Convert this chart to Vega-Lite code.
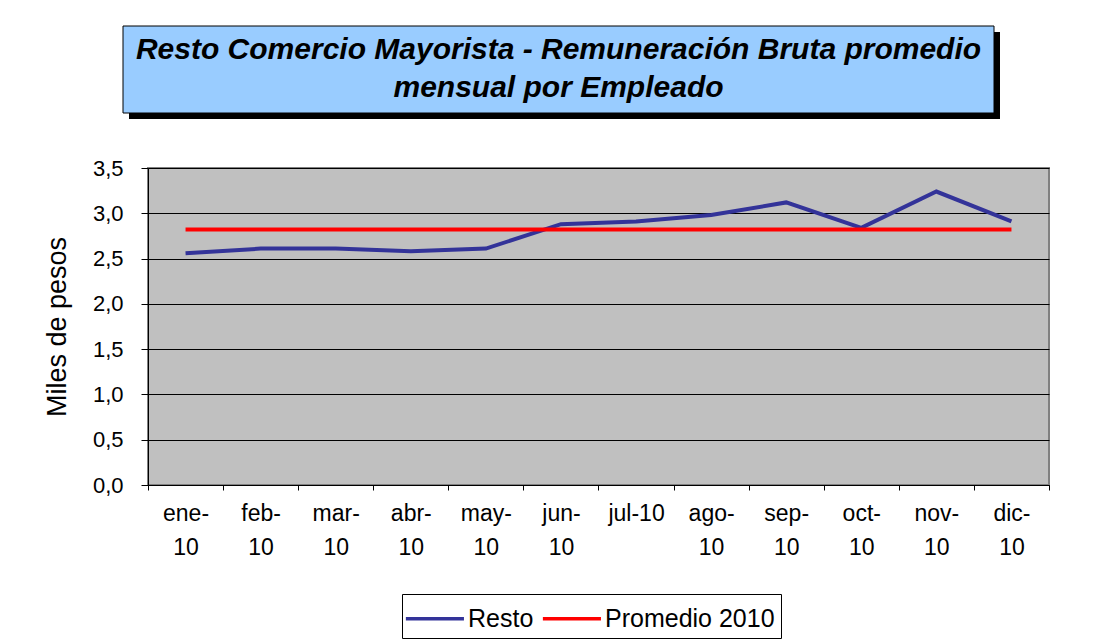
{
  "$schema": "https://vega.github.io/schema/vega-lite/v6.json",
  "padding": {"left": 42, "top": 25, "right": 5, "bottom": 5},
  "background": "white",
  "spacing": 55,
  "bounds": "flush",
  "config": {"font": "Liberation Sans", "view": {"stroke": null}},
  "resolve": {"legend": {"color": "independent"}, "scale": {"x": "independent", "y": "independent"}},
  "vconcat": [
    {
      "width": 871,
      "height": 87,
      "data": {"values": [{"titulo": "Resto Comercio Mayorista - Remuneración Bruta promedio|mensual por Empleado"}]},
      "encoding": {
        "x": {"datum": 0, "type": "quantitative", "scale": {"domain": [0, 1], "nice": false, "zero": false}, "axis": null},
        "y": {"datum": 0, "type": "quantitative", "scale": {"domain": [0, 1], "nice": false, "zero": false}, "axis": null}
      },
      "layer": [
        {
          "mark": {"type": "rect", "fill": "black", "xOffset": -19, "x2Offset": -19, "yOffset": 6, "y2Offset": 6},
          "encoding": {"x2": {"datum": 1}, "y2": {"datum": 1}}
        },
        {
          "mark": {"type": "rect", "fill": "#99CCFF", "stroke": "black", "strokeWidth": 1, "xOffset": -25, "x2Offset": -25},
          "encoding": {"x2": {"datum": 1}, "y2": {"datum": 1}}
        },
        {
          "mark": {"type": "text", "font": "Liberation Sans", "fontSize": 30, "fontWeight": "bold", "fontStyle": "italic", "lineHeight": 38, "lineBreak": "|", "dx": -25, "dy": -20, "align": "center", "baseline": "middle", "color": "black"},
          "encoding": {
            "x": {"datum": 0.5, "type": "quantitative"},
            "y": {"datum": 0.5, "type": "quantitative"},
            "text": {"field": "titulo", "type": "nominal"}
          }
        }
      ]
    },
    {
      "width": 901,
      "height": 317,
      "view": {"fill": "#C0C0C0", "stroke": "#808080", "strokeWidth": 2},
      "data": {"values": [
        {"mes": "ene-10", "serie": "Resto", "valor": 2.56},
        {"mes": "feb-10", "serie": "Resto", "valor": 2.61},
        {"mes": "mar-10", "serie": "Resto", "valor": 2.61},
        {"mes": "abr-10", "serie": "Resto", "valor": 2.58},
        {"mes": "may-10", "serie": "Resto", "valor": 2.61},
        {"mes": "jun-10", "serie": "Resto", "valor": 2.88},
        {"mes": "jul-10", "serie": "Resto", "valor": 2.91},
        {"mes": "ago-10", "serie": "Resto", "valor": 2.98},
        {"mes": "sep-10", "serie": "Resto", "valor": 3.12},
        {"mes": "oct-10", "serie": "Resto", "valor": 2.84},
        {"mes": "nov-10", "serie": "Resto", "valor": 3.24},
        {"mes": "dic-10", "serie": "Resto", "valor": 2.91},
        {"mes": "ene-10", "serie": "Promedio 2010", "valor": 2.82},
        {"mes": "feb-10", "serie": "Promedio 2010", "valor": 2.82},
        {"mes": "mar-10", "serie": "Promedio 2010", "valor": 2.82},
        {"mes": "abr-10", "serie": "Promedio 2010", "valor": 2.82},
        {"mes": "may-10", "serie": "Promedio 2010", "valor": 2.82},
        {"mes": "jun-10", "serie": "Promedio 2010", "valor": 2.82},
        {"mes": "jul-10", "serie": "Promedio 2010", "valor": 2.82},
        {"mes": "ago-10", "serie": "Promedio 2010", "valor": 2.82},
        {"mes": "sep-10", "serie": "Promedio 2010", "valor": 2.82},
        {"mes": "oct-10", "serie": "Promedio 2010", "valor": 2.82},
        {"mes": "nov-10", "serie": "Promedio 2010", "valor": 2.82},
        {"mes": "dic-10", "serie": "Promedio 2010", "valor": 2.82}
      ]},
      "mark": {"type": "line", "strokeWidth": 4},
      "encoding": {
        "x": {
          "field": "mes", "type": "nominal", "sort": null,
          "scale": {"type": "band", "paddingInner": 0, "paddingOuter": 0},
          "axis": {
            "title": null, "labelAngle": 0, "tickBand": "extent", "tickSize": 5,
            "tickColor": "black", "domainColor": "black", "labelFontSize": 23,
            "labelColor": "black", "labelPadding": 12, "labelLineHeight": 34,
            "labelBaseline": "top", "grid": false,
            "labelExpr": "(datum.label == null || datum.label == '') ? '' : (datum.label == 'jul-10' ? datum.label : [replace(datum.label, '-10', '-'), '10'])"
          }
        },
        "y": {
          "field": "valor", "type": "quantitative",
          "scale": {"domain": [0, 3.5], "nice": false},
          "axis": {
            "title": "Miles de pesos", "titleFontSize": 27, "titleFontWeight": "normal",
            "titleColor": "black", "titlePadding": 21,
            "values": [0, 0.5, 1, 1.5, 2, 2.5, 3, 3.5],
            "labelExpr": "replace(format(datum.value, '.1f'), '.', ',')",
            "labelFontSize": 22, "labelColor": "black", "labelPadding": 18,
            "tickSize": 7, "tickColor": "black", "domainColor": "black",
            "grid": true, "gridColor": "black", "gridWidth": 1
          }
        },
        "color": {
          "field": "serie", "type": "nominal", "sort": null,
          "scale": {"domain": ["Resto", "Promedio 2010"], "range": ["#333399", "#FF0000"]},
          "legend": {
            "title": null, "orient": "none", "legendX": 254, "legendY": 426,
            "direction": "horizontal", "strokeColor": "black", "fillColor": "white",
            "padding": 6, "symbolType": "M-1.25,0H2.27", "symbolSize": 1089,
            "symbolStrokeWidth": 3.5, "labelFontSize": 25, "labelOffset": 23,
            "labelLimit": 400, "columnPadding": 1, "labelColor": "black", "labelFont": "Liberation Sans"
          }
        }
      }
    }
  ]
}
